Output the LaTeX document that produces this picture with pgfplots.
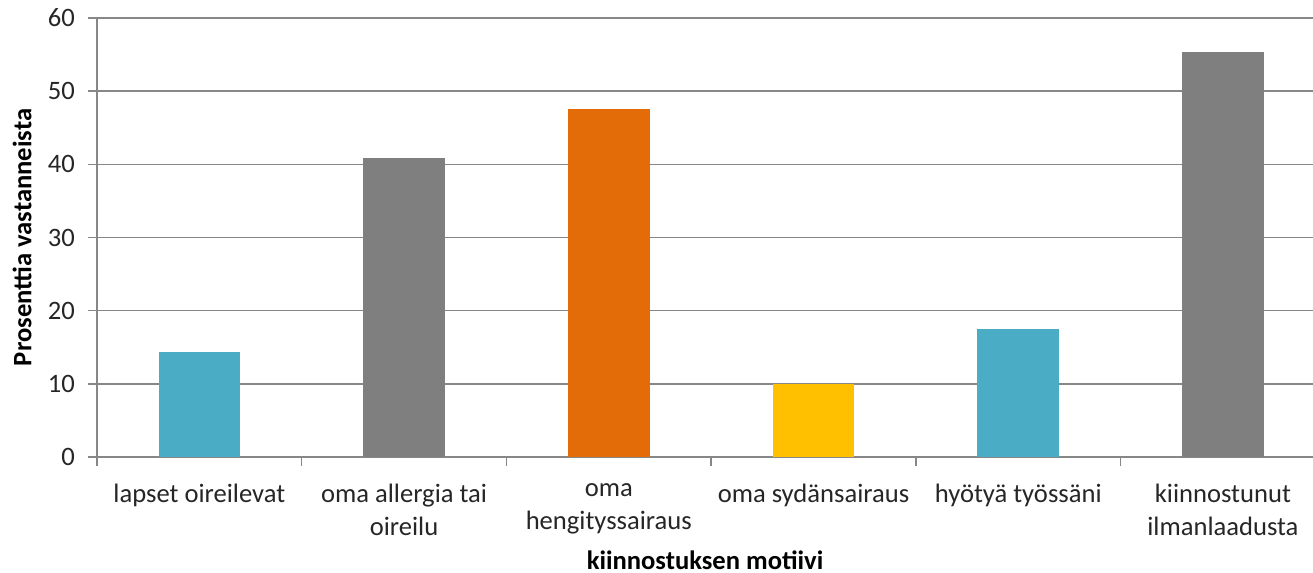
\documentclass[border=0pt]{standalone}
\usepackage{pgfplots}
\pgfplotsset{compat=1.18}
\usepackage{fontspec}
\setmainfont{Carlito}
\definecolor{cblue}{HTML}{4BACC6}
\definecolor{cgray}{HTML}{7F7F7F}
\definecolor{corange}{HTML}{E36C09}
\definecolor{cyellow}{HTML}{FFC000}
\definecolor{axgray}{HTML}{878787}
\definecolor{txt}{HTML}{262626}
\begin{document}
\begin{tikzpicture}
\begin{axis}[
  scale only axis, width=608pt, height=219.5pt,
  xmin=-0.5, xmax=5.44, ymin=0, ymax=60,
  ybar, bar width=40.8pt, bar shift=0pt,
  axis x line*=bottom, axis y line*=left,
  axis line style={draw=axgray, line width=0.7pt},
  ytick={0,10,...,60}, ymajorgrids,
  grid style={draw=axgray, line width=0.7pt},
  xtick={0,1,2,3,4,5},
  xticklabels={lapset oireilevat, oma allergia tai\\oireilu, oma\\hengityssairaus, oma sydänsairaus, hyötyä työssäni, kiinnostunut\\ilmanlaadusta},
  minor xtick={-0.5,0.5,1.5,2.5,3.5,4.5},
  every major x tick/.style={draw=none},
  tick align=outside, major tick length=4.5pt, minor tick length=4.5pt,
  tick style={draw=axgray, line width=0.7pt},
  /pgf/number format/assume math mode=true,
  ticklabel style={font=\fontsize{13.3}{16.5}\selectfont, text=txt},
  xticklabel style={align=center, anchor=north, yshift=-5.5pt},
  yticklabel style={xshift=-3pt},
  xlabel={kiinnostuksen motiivi},
  ylabel={Prosenttia vastanneista},
  label style={font=\fontsize{13.3}{16}\selectfont\bfseries, text=black},
  xlabel style={at={(axis cs:2.47,0)}, anchor=center, yshift=-51.5pt},
  ylabel style={at={(axis description cs:0,0.5)}, anchor=center, yshift=37.5pt},
]
\addplot[fill=cblue, draw=none] coordinates {(0,14.3)};
\addplot[fill=cgray, draw=none] coordinates {(1,40.9)};
\addplot[fill=corange, draw=none] coordinates {(2,47.5)};
\addplot[fill=cyellow, draw=none] coordinates {(3,10.0)};
\addplot[fill=cblue, draw=none] coordinates {(4,17.5)};
\addplot[fill=cgray, draw=none] coordinates {(5,55.4)};
\end{axis}
\pgfresetboundingbox
\path ([shift={(-48.5pt,-58pt)}]current axis.south west) rectangle ([shift={(0pt,9pt)}]current axis.north east);
\end{tikzpicture}
\end{document}
